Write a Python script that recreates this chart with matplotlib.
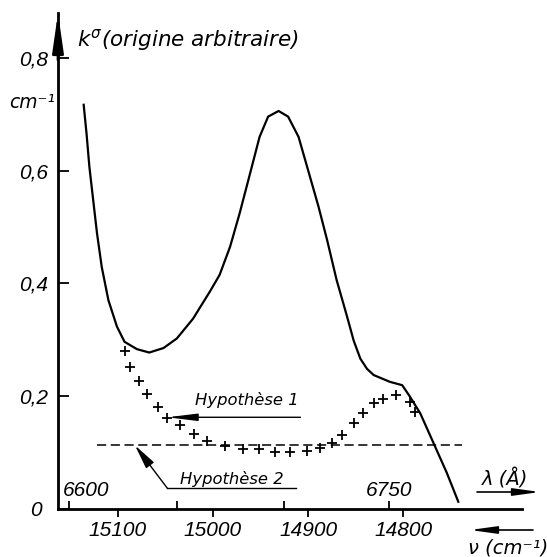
import matplotlib
matplotlib.use("Agg")
import matplotlib.pyplot as plt
from matplotlib.transforms import ScaledTranslation

# Measured absorption coefficient k (cm^-1, arbitrary origin) vs wavenumber (cm^-1)
nu_curve = [15136, 15133, 15130, 15126, 15122, 15117, 15110, 15101, 15093, 15080,
            15067, 15052, 15038, 15021, 15003, 14993, 14982, 14972, 14961, 14951,
            14942, 14931, 14921, 14910, 14900, 14889, 14880, 14870, 14859, 14852,
            14845, 14838, 14831, 14814, 14801, 14793, 14782, 14768, 14754, 14742]
k_curve = [0.717, 0.666, 0.607, 0.548, 0.489, 0.429, 0.370, 0.323, 0.296, 0.283,
           0.277, 0.285, 0.302, 0.337, 0.386, 0.415, 0.465, 0.524, 0.595, 0.660,
           0.696, 0.706, 0.696, 0.660, 0.601, 0.536, 0.477, 0.406, 0.341, 0.298,
           0.266, 0.248, 0.237, 0.225, 0.219, 0.199, 0.169, 0.116, 0.063, 0.012]

# Hypothesis 1: corrected points
nu_cross = [15093, 15087, 15078, 15069, 15058, 15048, 15035, 15020, 15006, 14987,
            14968, 14952, 14935, 14919, 14901, 14887, 14875, 14864, 14852, 14842,
            14831, 14821, 14808, 14793, 14788]
k_cross = [0.279, 0.251, 0.227, 0.203, 0.181, 0.161, 0.148, 0.132, 0.120, 0.111,
           0.105, 0.105, 0.100, 0.100, 0.103, 0.107, 0.117, 0.131, 0.152, 0.169,
           0.187, 0.194, 0.202, 0.190, 0.172]

# Hypothesis 2: constant level
k_hyp2 = 0.112
nu_hyp2 = [15122, 14738]

nu_ticks = [15100, 15000, 14900, 14800]
nu_labels = ["15100", "15000", "14900", "14800"]
lam_ticks = [6600, 6650, 6700, 6750]
lam_labels = ["6600", "", "", "6750"]
k_ticks = [0, 0.2, 0.4, 0.6, 0.8]
k_labels = ["0", "0,2", "0,4", "0,6", "0,8"]

W, H = 547, 557
fig = plt.figure(figsize=(W / 100, H / 100), dpi=100)
ax = fig.add_axes([58 / W, (H - 508.5) / H, (522 - 58) / W, (508.5 - 13) / H])
ax.set_xlim(15163, 14675)
ax.set_ylim(0, 0.880)

num_font = dict(family="Liberation Sans", style="italic", size=15)
word_font = dict(family="DejaVu Sans", style="oblique")

for side in ("top", "right"):
    ax.spines[side].set_visible(False)
for side in ("left", "bottom"):
    ax.spines[side].set_linewidth(2)

ax.set_xticks(nu_ticks)
ax.set_xticklabels(nu_labels, **num_font)
ax.set_yticks(k_ticks)
ax.set_yticklabels(k_labels, **num_font)
ax.tick_params(axis="x", direction="out", length=6, width=1.3, pad=3)
ax.tick_params(axis="y", direction="in", length=8, width=1.3, pad=7)
zero_lbl = ax.get_yticklabels()[0]
zero_lbl.set_transform(zero_lbl.get_transform() +
                       ScaledTranslation(-7 / 100, 0, fig.dpi_scale_trans))

# wavelength scale (Angstrom) drawn on the same axis, ticks pointing up
lam_nu = [1e8 / l for l in lam_ticks]
ax.plot(lam_nu, [0] * len(lam_nu), ls="none", marker=2, ms=6, mew=1.3,
        color="k", clip_on=False)
for x, lab in zip(lam_nu, lam_labels):
    if not lab:
        continue
    if lab == lam_labels[0]:
        ax.annotate(lab, xy=(x, 0), xytext=(-6, 8), textcoords="offset pixels",
                    ha="left", va="bottom", **num_font)
    else:
        ax.annotate(lab, xy=(x, 0), xytext=(0, 8), textcoords="offset pixels",
                    ha="center", va="bottom", **num_font)

# data
ax.plot(nu_curve, k_curve, color="k", lw=1.6, solid_joinstyle="round", clip_on=False)
ax.plot(nu_cross, k_cross, ls="none", marker="+", ms=7, mew=1.3, color="k")
ax.plot(nu_hyp2, [k_hyp2] * 2, color="k", lw=1.1, dashes=(6, 3))

# Hypothèse 1 pointer
arrow_kw = dict(arrowstyle="-|>,head_length=1.8,head_width=0.22", mutation_scale=10,
                lw=1.0, color="k", shrinkA=0, shrinkB=0)
ax.annotate("", xy=(nu_cross[5], k_cross[5] + 0.001), xytext=(14908, k_cross[5] + 0.001),
            arrowprops=arrow_kw)
ax.text(14964, 0.184, "Hypothèse 1", ha="center", va="baseline", size=11.8, **word_font)

# Hypothèse 2 pointer
ax.plot([14913, 15048], [0.036, 0.036], color="k", lw=1.0)
ax.annotate("", xy=(15082, k_hyp2), xytext=(15048, 0.036),
            arrowprops=dict(arrowstyle="-|>,head_length=1.5,head_width=0.3",
                            mutation_scale=10, lw=1.0, color="k", shrinkA=0, shrinkB=0))
ax.text(14980, 0.043, "Hypothèse 2", ha="center", va="baseline", size=11.8, **word_font)

# axis arrows and titles
ax_arrow = dict(arrowstyle="-|>,head_length=2.3,head_width=0.33", mutation_scale=10,
                lw=2, color="k", shrinkA=0, shrinkB=0)
ax.annotate("", xy=(58, H - 13), xycoords="figure pixels",
            xytext=(58, H - 60), textcoords="figure pixels", arrowprops=ax_arrow)

fig.text(77 / W, (H - 46) / H, r"$k^{\sigma}$(origine arbitraire)", va="baseline",
         size=15.5, **word_font)
fig.text(9 / W, (H - 108) / H, "cm⁻¹", va="baseline", size=13.5, **word_font)

small_arrow = dict(arrowstyle="-|>,head_length=1.6,head_width=0.22", mutation_scale=10,
                   lw=1.2, color="k", shrinkA=0, shrinkB=0)
fig.text(505 / W, (H - 479) / H, "λ (Å)", ha="center", va="center", size=14, **word_font)
ax.annotate("", xy=(540, H - 492), xycoords="figure pixels",
            xytext=(477, H - 492), textcoords="figure pixels", arrowprops=small_arrow)
fig.text(468 / W, (H - 548) / H, "ν (cm⁻¹)", ha="left", va="center", size=14, **word_font)
ax.annotate("", xy=(470, H - 530), xycoords="figure pixels",
            xytext=(533, H - 530), textcoords="figure pixels", arrowprops=small_arrow)

fig.savefig("out.png", dpi=100)
